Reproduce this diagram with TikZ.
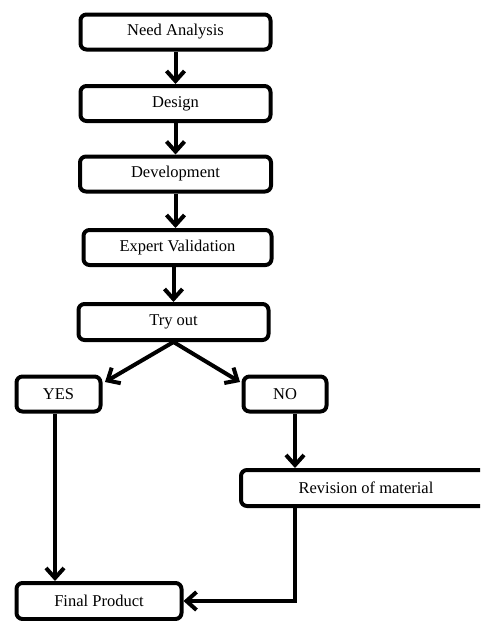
\documentclass[tikz,border=0pt]{standalone}
\usepackage{fontspec}
\setmainfont{Liberation Serif}
\usetikzlibrary{arrows.meta}
\begin{document}
\begin{tikzpicture}[x=1pt,y=-1pt,
  box/.style={draw=black,line width=4pt,rounded corners=6pt,fill=white,
    align=center,inner sep=0pt,font=\fontsize{16.5}{19}\selectfont},
  conn/.style={line width=4pt,-{Straight Barb[length=10pt,width=18pt,line width=4pt]}}]
\useasboundingbox (0,0) rectangle (480,621);
\clip (0,0) rectangle (480,621);
\node[box,minimum width=190pt,minimum height=35pt] (na) at (175.5,32) {Need Analysis};
\node[box,minimum width=190pt,minimum height=35pt] (de) at (175.5,103.5) {Design};
\node[box,minimum width=191pt,minimum height=35pt] (dv) at (175.5,174) {Development};
\node[box,minimum width=188pt,minimum height=35pt] (ev) at (177.5,247.5) {Expert Validation};
\node[box,minimum width=190pt,minimum height=36pt] (to) at (173.5,322) {Try out};
\node[box,minimum width=84pt,minimum height=35pt] (yes) at (58.5,394) {YES};
\node[box,minimum width=83pt,minimum height=35pt] (no) at (285,394) {NO};
\node[box,minimum width=250pt,minimum height=36pt] (rev) at (366,488) {Revision of material};
\node[box,minimum width=165pt,minimum height=36pt] (fp) at (99,601) {Final Product};
\coordinate (yx) at (55,0);
\coordinate (nx) at (295,0);
\coordinate (yt) at (105,382);
\coordinate (nt) at (240,382);
\draw[conn] (na) -- (de);
\draw[conn] (de) -- (dv);
\draw[conn] (dv) -- (ev.north -| dv);
\draw[conn] (ev.south -| to) -- (to);
\draw[conn] (to.south) -- (yt);
\draw[conn] (to.south) -- (nt);
\draw[conn] (yes.south -| yx) -- (fp.north -| yx);
\draw[conn] (no.south -| nx) -- (rev.north -| nx);
\draw[conn] (rev.south -| nx) |- (fp.east);
\end{tikzpicture}
\end{document}
